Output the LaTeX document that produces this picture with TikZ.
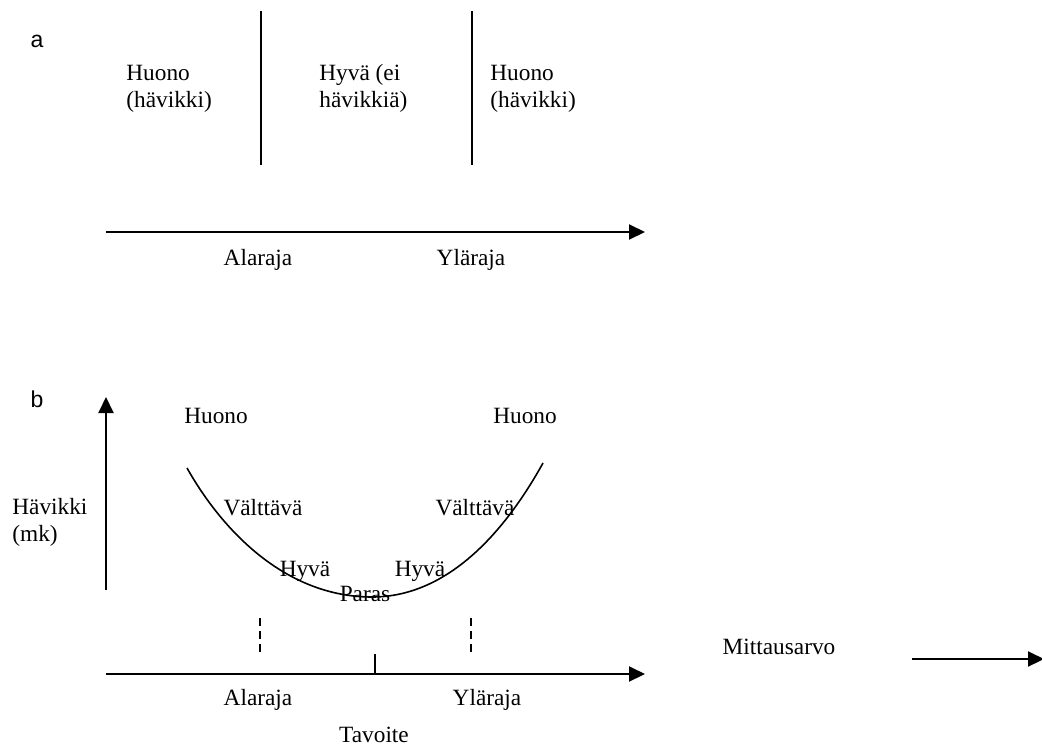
\documentclass[tikz,border=0pt]{standalone}
\usepackage{fontspec}
\setmainfont{Liberation Serif}
\newfontfamily\panelsans{Liberation Sans}
\usetikzlibrary{arrows.meta}
\begin{document}
\begin{tikzpicture}[x=0.5pt,y=-0.5pt,
  lbl/.style={inner sep=0pt, anchor=base, font=\fontsize{11.65}{13.5}\selectfont},
  lbll/.style={inner sep=0pt, anchor=base west, align=left, font=\fontsize{11.65}{13.5}\selectfont},
  panel/.style={inner sep=0pt, anchor=base, font=\panelsans\fontsize{11.5}{13}\selectfont},
  axis/.style={line width=1pt, -{Triangle[length=8pt,width=7.5pt]}},
  limit/.style={line width=1pt},
  guide/.style={line width=0.75pt, dash pattern=on 4pt off 2.5pt},
  lossline/.style={line width=0.8pt}]
\useasboundingbox (0,0) rectangle (1042,744);

% ---------- panel a: hard limits ----------
\node[panel] (pa) at (37,47) {a};
\coordinate (la1) at (261,11);  \coordinate (la2) at (261,165);
\coordinate (ua1) at (472,11);  \coordinate (ua2) at (472,165);
\draw[limit] (la1) -- (la2);
\draw[limit] (ua1) -- (ua2);
\coordinate (xa0) at (106,232); \coordinate (xa1) at (645,232);
\draw[axis] (xa0) -- (xa1);
% two-line labels: anchored on the baseline of their last line
\node[lbll] (badl) at (126,107) {Huono\\(hävikki)};
\node[lbll] (good) at (319,107) {Hyvä (ei\\hävikkiä)};
\node[lbll] (badr) at (490,107) {Huono\\(hävikki)};
\node[lbl] (lowa) at (258,265) {Alaraja};
\node[lbl] (upa)  at (471,265) {Yläraja};

% ---------- panel b: loss function ----------
\node[panel] (pb) at (37,407) {b};
\coordinate (ya0) at (106,590); \coordinate (ya1) at (106,397);
\draw[axis] (ya0) -- (ya1);
\coordinate (xb0) at (106,674); \coordinate (xb1) at (645,674);
\draw[axis] (xb0) -- (xb1);
\coordinate (t0) at (375,654); \coordinate (t1) at (375,674);
\draw[limit] (t0) -- (t1);
\coordinate (dl0) at (260,618); \coordinate (dl1) at (260,654);
\coordinate (du0) at (471,618); \coordinate (du1) at (471,654);
\draw[guide] (dl0) -- (dl1);
\draw[guide] (du0) -- (du1);

% loss curve
\coordinate (cl) at (187,468);
\coordinate (cb) at (372,597);
\coordinate (cr) at (543,463);
\draw[lossline] (cl) .. controls (222,530) and (285,597) .. (cb)
                     .. controls (450,597) and (507,528) .. (cr);

\node[lbll] (loss) at (12,541) {Hävikki\\(mk)};
\node[lbl] (hl)  at (216,423) {Huono};
\node[lbl] (hr)  at (525,423) {Huono};
\node[lbl] (vl)  at (263,515) {Välttävä};
\node[lbl] (vr)  at (475,515) {Välttävä};
\node[lbl] (gl)  at (305,576) {Hyvä};
\node[lbl] (gr)  at (420,576) {Hyvä};
\node[lbl] (best) at (365,601) {Paras};
\node[lbl] (lowb) at (258,705) {Alaraja};
\node[lbl] (upb)  at (487,705) {Yläraja};
\node[lbl] (tgt)  at (374,742) {Tavoite};

% measured value legend
\node[lbl] (meas) at (779,654) {Mittausarvo};
\coordinate (m0) at (912,659); \coordinate (m1) at (1044,659);
\draw[axis] (m0) -- (m1);
\end{tikzpicture}
\end{document}
